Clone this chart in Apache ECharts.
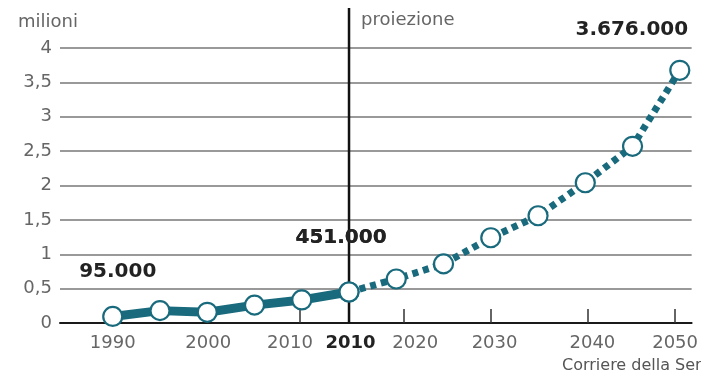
<!DOCTYPE html>
<html>
<head>
<meta charset="utf-8">
<script src="https://cdn.jsdelivr.net/npm/echarts@6/dist/echarts.min.js"></script>
<style>
  html, body { margin: 0; padding: 0; background: #fff; }
  #main { width: 701px; height: 377px; }
</style>
</head>
<body>
<div id="main"></div>
<script>
// Milioni di persone: serie storica (1990-2010) e proiezione fino al 2050
const valori = [0.095, 0.18, 0.156, 0.26, 0.335, 0.451, 0.64, 0.86, 1.24, 1.56, 2.04, 2.57, 3.676];
const indice2010 = 5;                 // ultimo punto storico, inizio della proiezione
const puntiConEtichetta = [0, 5, 12]; // punti con il valore scritto sopra

// Etichette dell'asse orizzontale e relative posizioni (in passi tra i punti)
const anniAsse = ['1990', '2000', '2010', '2010', '2020', '2030', '2040', '2050'];
const posizioniAnni = [0, 2.02, 3.75, 5.03, 6.4, 8.08, 10.15, 11.9];
const annoInGrassetto = 3;
const posizioniTacche = [3.96, 4.99, 6.15, 8.0, 10.06, 11.9];

// Asse verticale
const yMin = 0, yMax = 4, yPasso = 0.5;

const TEAL = '#186a7c';
const GRIGIO = '#666';
const FONT = '"DejaVu Sans", sans-serif';

function formatoItaliano(v) {
  return String(Math.round(v * 1e6)).replace(/\B(?=(\d{3})+(?!\d))/g, '.');
}

const etichettaStile = {
  0:  { distance: 24, offset: [5, 0] },
  5:  { distance: 34, offset: [-8, 0] },
  12: { distance: 20, offset: [-48, 0] }
};

function punto(i) {
  const item = { value: [i, valori[i]] };
  if (puntiConEtichetta.includes(i)) {
    const s = etichettaStile[i] || { distance: 20, offset: [0, 0] };
    item.label = {
      show: true,
      position: 'top',
      distance: s.distance,
      offset: s.offset,
      formatter: p => formatoItaliano(p.value[1]),
      fontFamily: FONT,
      fontWeight: 'bold',
      fontSize: 20,
      color: '#222'
    };
  }
  return item;
}

const storico = [];
for (let i = 0; i <= indice2010; i++) storico.push(punto(i));
const proiezione = [];
for (let i = indice2010; i < valori.length; i++) proiezione.push(punto(i));

const simbolo = {
  symbol: 'circle',
  symbolSize: 19,
  itemStyle: { color: '#fff', borderColor: TEAL, borderWidth: 2.2 }
};

const option = {
  animation: false,
  backgroundColor: '#fff',
  title: [
    { text: 'milioni', left: 13, top: 8,
      textStyle: { fontFamily: FONT, fontSize: 18, fontWeight: 'normal', color: GRIGIO } },
    { text: 'Corriere della Sera', left: 557, top: 353,
      textStyle: { fontFamily: FONT, fontSize: 16, fontWeight: 'normal', color: '#555' } }
  ],
  grid: { left: 60, right: 6, top: 48, bottom: 54 },
  xAxis: {
    type: 'value',
    min: -1.116,
    max: 12.25,
    splitLine: { show: false },
    axisLine: { show: true, onZero: false, lineStyle: { color: '#1a1a1a', width: 2 } },
    axisTick: {
      show: true, inside: true, length: 14,
      customValues: posizioniTacche,
      lineStyle: { color: '#333', width: 1.5 }
    },
    axisLabel: {
      customValues: posizioniAnni,
      margin: 11,
      fontFamily: FONT,
      fontSize: 18,
      color: GRIGIO,
      formatter: function (v) {
        let k = posizioniAnni.indexOf(v);
        if (k < 0) {
          k = posizioniAnni.reduce((b, p, j) => Math.abs(p - v) < Math.abs(posizioniAnni[b] - v) ? j : b, 0);
        }
        return k === annoInGrassetto ? '{b|' + anniAsse[k] + '}' : anniAsse[k];
      },
      rich: {
        b: { fontFamily: FONT, fontSize: 18, fontWeight: 'bold', color: '#222' }
      }
    }
  },
  yAxis: {
    type: 'value',
    min: yMin,
    max: yMax,
    interval: yPasso,
    axisLine: { show: false },
    axisTick: { show: false },
    axisLabel: {
      margin: 8,
      fontFamily: FONT,
      fontSize: 18,
      color: GRIGIO,
      formatter: v => String(v).replace('.', ',')
    },
    splitLine: { lineStyle: { color: '#777', width: 1.6 } }
  },
  series: [
    Object.assign({
      name: 'proiezione',
      type: 'line',
      data: proiezione,
      lineStyle: { color: TEAL, width: 7, type: [6, 5], cap: 'butt' }
    }, simbolo),
    Object.assign({
      name: 'storico',
      type: 'line',
      data: storico,
      lineStyle: { color: TEAL, width: 9 }
    }, simbolo)
  ]
};

const chart = echarts.init(document.getElementById('main'), null, { renderer: 'canvas' });
chart.setOption(option);

// Linea verticale che separa i dati storici dalla proiezione
const xSeparatore = chart.convertToPixel({ xAxisIndex: 0 }, indice2010);
const yBase = chart.convertToPixel({ yAxisIndex: 0 }, yMin);
chart.setOption({
  graphic: [
    { type: 'line', z: 1,
      shape: { x1: xSeparatore, y1: 8, x2: xSeparatore, y2: yBase },
      style: { stroke: '#111', lineWidth: 2.5 } },
    { type: 'text', z: 1, x: xSeparatore + 12, y: 11,
      style: { text: 'proiezione', fontFamily: FONT, fontSize: 18, fill: GRIGIO } }
  ]
});
</script>
</body>
</html>
